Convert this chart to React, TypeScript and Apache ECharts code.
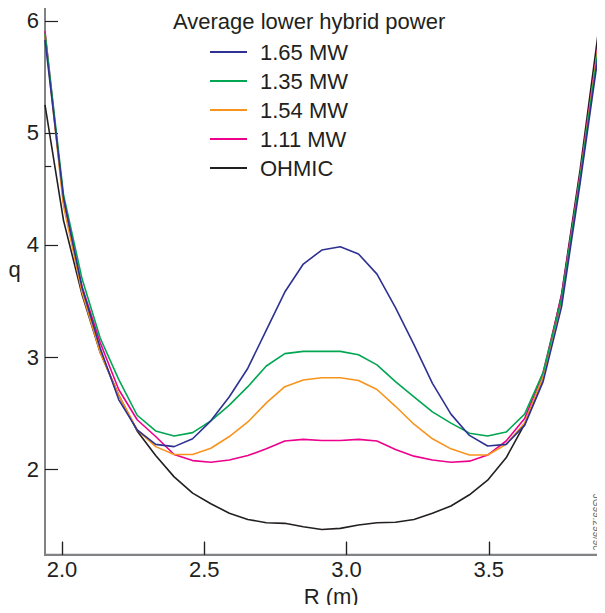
import React, { useEffect, useRef } from "react";
import * as echarts from "echarts";

// Major radius R (m) at which q was sampled
const R = [
  1.94, 2.005, 2.07, 2.134, 2.199, 2.264, 2.329, 2.394, 2.459, 2.523, 2.588,
  2.653, 2.718, 2.783, 2.848, 2.913, 2.978, 3.042, 3.107, 3.172, 3.237, 3.302,
  3.367, 3.432, 3.496, 3.561, 3.626, 3.691, 3.756, 3.821, 3.885,
];

const q165 = [
  5.83, 4.42, 3.62, 3.08, 2.62, 2.35, 2.22, 2.2, 2.27, 2.43, 2.645, 2.9, 3.24,
  3.58, 3.83, 3.955, 3.985, 3.92, 3.74, 3.44, 3.11, 2.765, 2.49, 2.3, 2.205,
  2.22, 2.39, 2.78, 3.45, 4.55, 5.7,
];
const q135 = [
  5.89, 4.45, 3.7, 3.17, 2.8, 2.48, 2.34, 2.295, 2.325, 2.43, 2.57, 2.735,
  2.92, 3.03, 3.05, 3.05, 3.05, 3.02, 2.93, 2.78, 2.645, 2.51, 2.41, 2.32,
  2.295, 2.33, 2.49, 2.86, 3.52, 4.6, 5.75,
];
const q154 = [
  5.88, 4.35, 3.58, 3.04, 2.66, 2.35, 2.2, 2.13, 2.13, 2.185, 2.29, 2.42, 2.59,
  2.735, 2.795, 2.815, 2.815, 2.79, 2.71, 2.56, 2.4, 2.27, 2.18, 2.125, 2.125,
  2.22, 2.41, 2.82, 3.5, 4.6, 5.78,
];
const q111 = [
  5.91, 4.38, 3.63, 3.13, 2.71, 2.44, 2.29, 2.13, 2.075, 2.06, 2.08, 2.12,
  2.18, 2.25, 2.265, 2.255, 2.255, 2.265, 2.25, 2.175, 2.115, 2.08, 2.06, 2.07,
  2.125, 2.25, 2.45, 2.86, 3.55, 4.63, 5.8,
];
const qOhmic = [
  5.25, 4.22, 3.56, 3.04, 2.66, 2.34, 2.12, 1.93, 1.785, 1.69, 1.605, 1.55,
  1.52, 1.515, 1.485, 1.46, 1.47, 1.5, 1.52, 1.525, 1.55, 1.605, 1.67, 1.77,
  1.9, 2.1, 2.4, 2.82, 3.56, 4.67, 5.9,
];

const seriesNames = ["1.65 MW", "1.35 MW", "1.54 MW", "1.11 MW", "OHMIC"];
const seriesValues = [q165, q135, q154, q111, qOhmic];
const seriesColors = ["#2e3192", "#00a651", "#f7941d", "#ec008c", "#231f20"];

const xTicks = [2.0, 2.5, 3.0, 3.5];
const yTicks = [2, 3, 4, 5, 6];

const legendTitle = "Average lower hybrid power";
const xName = "R (m)";
const yName = "q";
const figureId = "JG99.299/9c";

const FONT = '"Liberation Sans", Arial, Helvetica, sans-serif';
const INK = "#231f20";
const FRAME = "#808285";

const X_MIN = 1.94;
const X_MAX = 3.885;
const Y_MIN = 1.235;
const Y_MAX = 6.14;

export default function App() {
  const ref = useRef<HTMLDivElement>(null);

  useEffect(() => {
    if (!ref.current) return;
    const chart = echarts.init(ref.current, undefined, { renderer: "svg" });

    const series: any[] = seriesNames.map((name, i) => ({
      name,
      type: "line",
      data: R.map((r, k) => [r, seriesValues[i][k]]),
      showSymbol: false,
      symbol: "none",
      lineStyle: { color: seriesColors[i], width: 1.6 },
      itemStyle: { color: seriesColors[i] },
      z: 10 - i,
    }));

    // inward tick marks along the R axis, plus a stray short tick on the q axis
    const yTickLen = (13 / 549.4) * (Y_MAX - Y_MIN);
    series[4].markLine = {
      silent: true,
      symbol: ["none", "none"],
      label: { show: false },
      lineStyle: { color: INK, width: 1.2, type: "solid" },
      data: [
        ...xTicks.map((t) => [
          { coord: [t, Y_MIN] },
          { coord: [t, Y_MIN + yTickLen] },
        ]),
        [{ coord: [X_MIN, 4.7] }, { coord: [X_MIN + 0.022, 4.7] }],
      ],
    };

    chart.setOption({
      animation: false,
      backgroundColor: "#ffffff",
      textStyle: { fontFamily: FONT, color: INK },
      grid: {
        left: 45,
        top: 5.3,
        width: 553.3,
        height: 549.4,
        show: true,
        borderColor: FRAME,
        borderWidth: 2,
        backgroundColor: "transparent",
      },
      title: {
        text: legendTitle,
        left: 173,
        top: 10,
        padding: 0,
        textStyle: {
          fontFamily: FONT,
          fontSize: 22,
          fontWeight: "normal",
          color: INK,
        },
      },
      legend: {
        data: seriesNames,
        orient: "vertical",
        left: 210,
        top: 41,
        padding: 0,
        itemGap: 7,
        itemWidth: 37,
        itemHeight: 2,
        icon: "rect",
        textStyle: {
          fontFamily: FONT,
          fontSize: 22,
          color: INK,
          padding: [0, 0, 0, 8],
        },
      },
      xAxis: {
        type: "value",
        min: X_MIN,
        max: X_MAX,
        name: xName,
        nameLocation: "middle",
        nameGap: 28,
        nameTextStyle: {
          fontFamily: FONT,
          fontSize: 22,
          color: INK,
          padding: [0, 0, 0, 19],
        },
        axisLine: { show: true, lineStyle: { color: FRAME, width: 2 } },
        axisTick: {
          show: true,
          inside: true,
          length: 13,
          lineStyle: { color: INK, width: 1.2 },
          customValues: xTicks,
        },
        axisLabel: {
          show: true,
          margin: 4,
          fontFamily: FONT,
          fontSize: 22,
          color: INK,
          customValues: xTicks,
          formatter: (v: number) => v.toFixed(1),
        },
        splitLine: { show: false },
      },
      yAxis: {
        type: "value",
        min: Y_MIN,
        max: Y_MAX,
        name: yName,
        nameLocation: "middle",
        nameRotate: 0,
        nameGap: 24,
        nameTextStyle: {
          fontFamily: FONT,
          fontSize: 22,
          color: INK,
          verticalAlign: "bottom",
        },
        axisLine: { show: true, lineStyle: { color: FRAME, width: 2 } },
        axisTick: {
          show: true,
          inside: true,
          length: 13,
          lineStyle: { color: INK, width: 1.2 },
          customValues: yTicks,
        },
        axisLabel: {
          show: true,
          margin: 6,
          fontFamily: FONT,
          fontSize: 22,
          color: INK,
          customValues: yTicks,
          formatter: (v: number) => String(Math.round(v)),
        },
        splitLine: { show: false },
      },
      graphic: [
        {
          type: "text",
          x: 601,
          y: 522,
          rotation: -Math.PI / 2,
          style: {
            text: figureId,
            fontFamily: FONT,
            fontSize: 10,
            fill: "#6d6e71",
            align: "center",
            verticalAlign: "top",
          },
        },
      ],
      series,
    });

    return () => chart.dispose();
  }, []);

  return <div ref={ref} style={{ width: 605, height: 613, margin: -8 }} />;
}
